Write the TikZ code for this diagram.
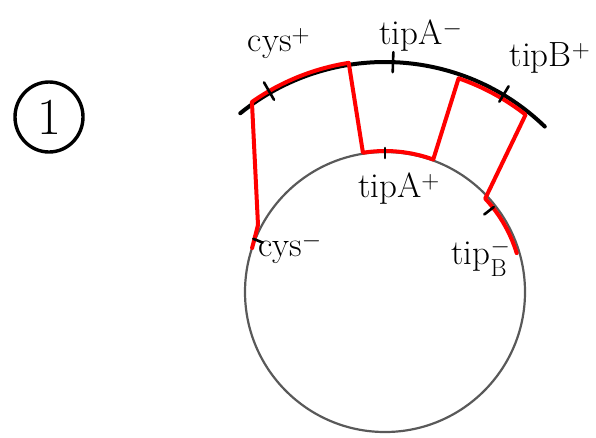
\documentclass[tikz,border=0pt]{standalone}
\usepackage{amsmath}
\usepackage{fontspec}
\usetikzlibrary{calc,shapes.geometric}
\newcommand{\lblnode}{\node[font=\fontsize{35}{38}\selectfont,inner sep=0pt]}
\tikzset{
  outer/.style={line width=4pt,black,line cap=round},
  inner/.style={line width=2.2pt,black!65},
  cut/.style={line width=4pt,red,line join=round,line cap=round},
  tick/.style={line width=2.6pt,black,line cap=round},
}

\begin{document}
\begin{tikzpicture}[x=1pt,y=-1pt]
  \useasboundingbox (0,0) rectangle (596,437);
  \coordinate (c) at (385,292); % centre of both arcs
  % circled number
  \node[draw,ellipse,line width=3.4pt,minimum width=68pt,minimum height=70pt,
        inner sep=0pt,font=\fontsize{52}{56}\selectfont] (num) at (49,117) {1};
  % cell and outer arc
  \draw[inner] (c) circle (140);
  \draw[outer] ($(c)+(-129:230)$) arc (-129:-46:230);
  % red outline
  \draw[cut] ($(c)+(-161.7:140)$) -- (258,225) -- ($(c)+(-125:232)$)
     arc (-125:-99:232) -- ($(c)+(-99:141)$) arc (-99:-70:141)
     -- ($(c)+(-71:226)$) arc (-71:-52:231) -- ($(c)+(-43:137)$)
     arc (-43:-17:140);
  % ticks
  \draw[tick] ($(c)+(-120:222)$) -- ($(c)+(-120:242)$);
  \draw[tick] ($(c)+(-88:220)$) -- ($(c)+(-88:240)$);
  \draw[tick] ($(c)+(-59:222)$) -- ($(c)+(-59:240)$);
  \draw[tick] ($(c)+(-90:134)$) -- ($(c)+(-90:144)$);
  \draw[tick] ($(c)+(-38:126)$) -- ($(c)+(-38:138)$);
  \draw[tick] ($(c)+(-158:132)$) -- ($(c)+(-158:142)$);
  % labels
  \lblnode (cysp) at (279,44) {cys$^+$};
  \lblnode (tipam) at (421,36) {tipA$^-$};
  \lblnode (tipbp) at (550,58) {tipB$^+$};
  \lblnode (tipap) at (399,189) {tipA$^+$};
  \lblnode (cysm) at (290,248) {cys$^-$};
  \lblnode (tipbm) at (481,258) {tip$_{\mathrm{B}}^-$};
\end{tikzpicture}
\end{document}
